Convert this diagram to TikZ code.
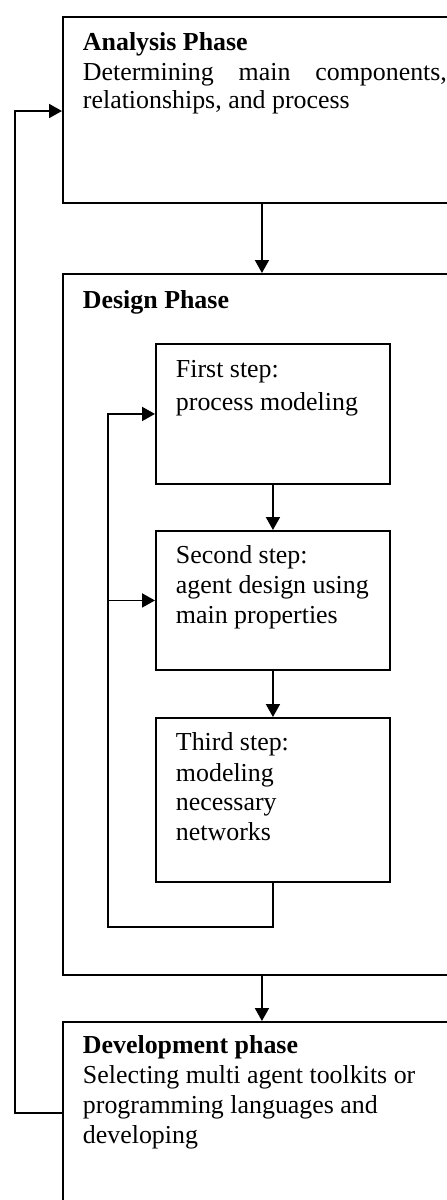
\documentclass[tikz,border=0pt]{standalone}
\usepackage{fontspec}
\setmainfont{Liberation Serif}
\usetikzlibrary{arrows.meta}
\begin{document}
\begin{tikzpicture}[x=1pt,y=-1pt,line width=1.9pt,
  box/.style={draw,rectangle,anchor=north west,inner sep=0pt},
  txt/.style={anchor=base west,inner sep=0pt,font=\fontsize{25.9}{29.5}\selectfont},
  flow/.style={-{Triangle[length=13pt,width=14pt]}}]
\useasboundingbox (0,0) rectangle (447,1200);
\clip (0,0) rectangle (447,1200);
\fill[white] (0,0) rectangle (447,1200);

% phase boxes (they run past the right edge)
\node[box,minimum width=398pt,minimum height=186pt] (ana) at (62,16) {};
\node[box,minimum width=398pt,minimum height=701pt] (des) at (62,273) {};
\node[box,minimum width=398pt,minimum height=300pt] (dev) at (62,1021) {};

% design steps
\node[box,minimum width=234pt,minimum height=140pt] (fst) at (155,343) {};
\node[box,minimum width=234pt,minimum height=139pt] (snd) at (155,530) {};
\node[box,minimum width=234pt,minimum height=164pt] (thd) at (155,717) {};

% texts
\node[txt] (anaA) at (82,50) {\textbf{Analysis Phase}};
\node[txt] (anaB) at (82,80) {\hbox to 364pt{Determining\hfill main\hfill components,}};
\node[txt] (anaC) at (82,108) {relationships, and process};

\node[txt] (desA) at (82,308) {\textbf{Design Phase}};

\node[txt] (fstA) at (175,377) {First step:};
\node[txt] (fstB) at (175,410) {process modeling};

\node[txt] (sndA) at (175,563) {Second step:};
\node[txt] (sndB) at (175,593) {agent design using};
\node[txt] (sndC) at (175,623) {main properties};

\node[txt] (thdA) at (175,750) {Third step:};
\node[txt] (thdB) at (175,781) {modeling};
\node[txt] (thdC) at (175,810) {necessary};
\node[txt] (thdD) at (175,840) {networks};

\node[txt] (devA) at (82,1053) {\textbf{Development phase}};
\node[txt] (devB) at (82,1083) {Selecting multi agent toolkits or};
\node[txt] (devC) at (82,1113) {programming languages and};
\node[txt] (devD) at (82,1143) {developing};

% main flow
\draw[flow] (ana.south) -- (des.north);
\draw[flow] (des.south) -- (dev.north);
\draw[flow] (fst.south) -- (snd.north);
\draw[flow] (snd.south) -- (thd.north);

% inner loop of the design phase
\coordinate (lb) at (108,927);
\coordinate (lt) at (108,413);
\draw (thd.south) |- (lb) -- (lt);
\draw[flow] (lb) |- (fst.west);
\draw[flow] (lt |- snd.west) -- (snd.west);

% outer loop back to analysis
\coordinate (ob) at (15,1113);
\coordinate (ot) at (15,111);
\draw[flow] (ob -| dev.west) -- (ob) -- (ot) -- (ot -| ana.west);
\end{tikzpicture}
\end{document}
